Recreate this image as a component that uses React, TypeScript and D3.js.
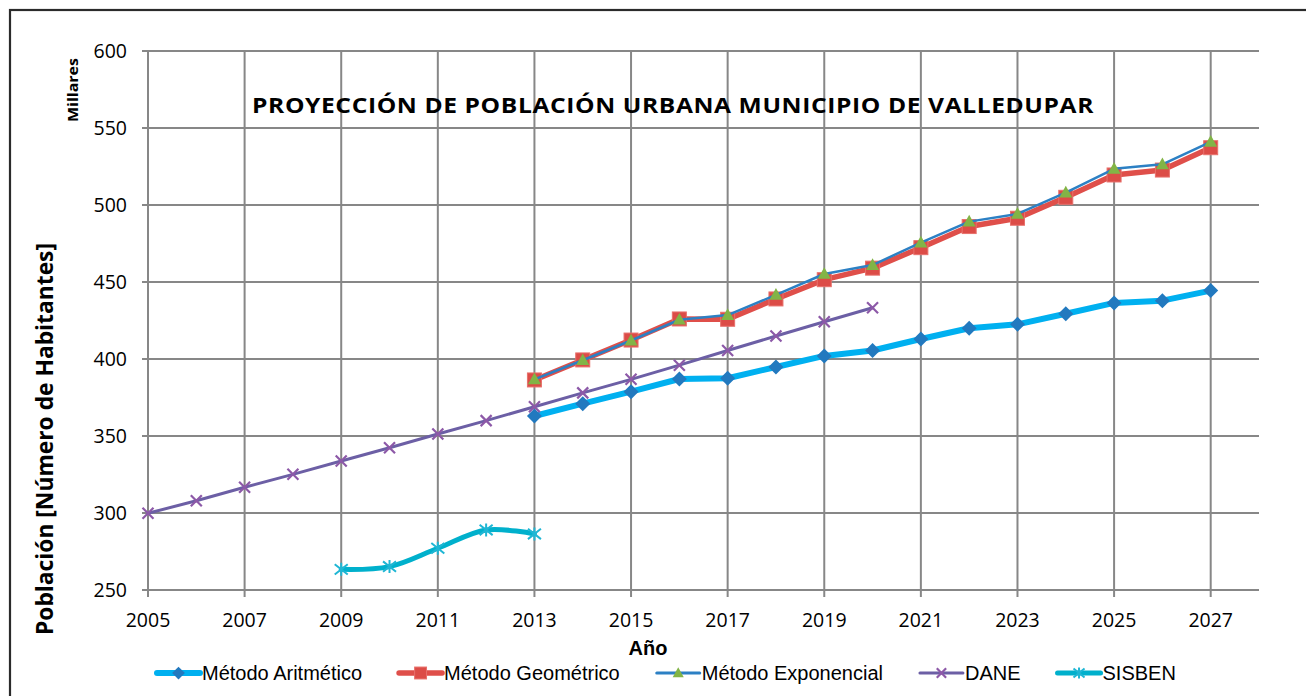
import React, { useEffect, useRef } from "react";
import * as d3 from "d3";

// values in thousands of inhabitants (Millares)
const yearsMetodos = [2013, 2014, 2015, 2016, 2017, 2018, 2019, 2020, 2021, 2022, 2023, 2024, 2025, 2026, 2027];
const aritmetico = [363, 371, 378.8, 387, 387.5, 394.8, 402, 405.5, 413, 420, 422.5, 429.4, 436.4, 437.9, 444.4];
const geometrico = [386.4, 399.4, 412.3, 426, 425.8, 439, 451.5, 459, 472.3, 486, 491.4, 505, 519.5, 522.7, 537.2];
const exponencial = [386.8, 399.2, 412, 425.5, 428.5, 441.6, 455.2, 461, 475.6, 489.2, 494.2, 508, 523.5, 526.4, 541];

const yearsDane = [2005, 2006, 2007, 2008, 2009, 2010, 2011, 2012, 2013, 2014, 2015, 2016, 2017, 2018, 2019, 2020];
const dane = [299.8, 308, 316.7, 325.1, 333.8, 342.4, 351.3, 360, 369, 378, 386.8, 396, 405.5, 414.9, 424.2, 433.3];

const yearsSisben = [2009, 2010, 2011, 2012, 2013];
const sisben = [263.4, 265.2, 277.1, 289, 286.4];

const xTicks = [2005, 2007, 2009, 2011, 2013, 2015, 2017, 2019, 2021, 2023, 2025, 2027];
const yTicks = [250, 300, 350, 400, 450, 500, 550, 600];

const titulo = "PROYECCIÓN DE POBLACIÓN URBANA MUNICIPIO DE VALLEDUPAR";

type Serie = {
  name: string;
  years: number[];
  values: number[];
  line: string;
  lineWidth: number;
  marker: string;
  symbol: "diamond" | "square" | "triangle" | "x" | "star";
  size: number;
  smooth: boolean;
};

const series: Serie[] = [
  { name: "Método Aritmético", years: yearsMetodos, values: aritmetico, line: "#00b0f0", lineWidth: 6, marker: "#2279bf", symbol: "diamond", size: 15, smooth: false },
  { name: "Método Geométrico", years: yearsMetodos, values: geometrico, line: "#df4f4a", lineWidth: 5.5, marker: "#dc4c47", symbol: "square", size: 14, smooth: false },
  { name: "Método Exponencial", years: yearsMetodos, values: exponencial, line: "#2c80c4", lineWidth: 2.5, marker: "#82b446", symbol: "triangle", size: 13, smooth: false },
  { name: "DANE", years: yearsDane, values: dane, line: "#6c5fa5", lineWidth: 3, marker: "#8d59a8", symbol: "x", size: 11, smooth: false },
  { name: "SISBEN", years: yearsSisben, values: sisben, line: "#00b0cc", lineWidth: 5, marker: "#1fb6d4", symbol: "star", size: 13, smooth: true },
];

function drawMarker(g: any, s: Serie, cx: number, cy: number, scale = 1) {
  const r = (s.size / 2) * scale;
  if (s.symbol === "diamond") {
    g.append("path")
      .attr("d", `M${cx},${cy - r}L${cx + r},${cy}L${cx},${cy + r}L${cx - r},${cy}Z`)
      .attr("fill", s.marker);
  } else if (s.symbol === "square") {
    g.append("rect")
      .attr("x", cx - r).attr("y", cy - r)
      .attr("width", 2 * r).attr("height", 2 * r)
      .attr("fill", s.marker)
      .attr("stroke", "#e8706b").attr("stroke-width", 1);
  } else if (s.symbol === "triangle") {
    g.append("path")
      .attr("d", `M${cx},${cy - r * 1.05}L${cx + r},${cy + r * 0.75}L${cx - r},${cy + r * 0.75}Z`)
      .attr("fill", s.marker);
  } else if (s.symbol === "x") {
    g.append("path")
      .attr("d", `M${cx - r},${cy - r}L${cx + r},${cy + r}M${cx - r},${cy + r}L${cx + r},${cy - r}`)
      .attr("stroke", s.marker).attr("stroke-width", 2.2);
  } else {
    g.append("path")
      .attr("d", `M${cx - r},${cy - r * 0.8}L${cx + r},${cy + r * 0.8}M${cx - r},${cy + r * 0.8}L${cx + r},${cy - r * 0.8}M${cx},${cy - r}L${cx},${cy + r}`)
      .attr("stroke", s.marker).attr("stroke-width", 2);
  }
}

export default function App() {
  const ref = useRef<SVGSVGElement>(null);

  useEffect(() => {
    const svg = d3.select(ref.current);
    svg.selectAll("*").remove();

    const W = 1306, H = 696;
    const left = 148, right = 1259, top = 51, bottom = 590;

    svg.append("rect").attr("width", W).attr("height", H).attr("fill", "#fff");
    // outer chart border (continues beyond the visible area)
    svg.append("rect")
      .attr("x", 10).attr("y", 10)
      .attr("width", W + 20).attr("height", H + 20)
      .attr("fill", "none").attr("stroke", "#2b2b2b").attr("stroke-width", 2.2);

    const x = d3.scaleLinear().domain([2005, 2028]).range([left, right]);
    const y = d3.scaleLinear().domain([250, 600]).range([bottom, top]);

    const grid = svg.append("g");
    yTicks.forEach((t) => {
      grid.append("line")
        .attr("x1", left - 6).attr("x2", right)
        .attr("y1", y(t)).attr("y2", y(t))
        .attr("stroke", "#878787").attr("stroke-width", 2);
    });
    xTicks.forEach((t) => {
      grid.append("line")
        .attr("x1", x(t)).attr("x2", x(t))
        .attr("y1", top).attr("y2", bottom + 7)
        .attr("stroke", "#878787").attr("stroke-width", 2);
    });

    svg.append("g")
      .selectAll("text")
      .data(yTicks)
      .join("text")
      .attr("x", 127)
      .attr("y", (d) => y(d) + 7)
      .attr("text-anchor", "end")
      .style("font-family", "'Open Sans', sans-serif")
      .style("font-size", "19.5px")
      .attr("fill", "#000")
      .text((d) => d);

    svg.append("g")
      .selectAll("text")
      .data(xTicks)
      .join("text")
      .attr("x", (d) => x(d))
      .attr("y", 627)
      .attr("text-anchor", "middle")
      .style("font-family", "'Open Sans', sans-serif")
      .style("font-size", "19.5px")
      .attr("fill", "#000")
      .text((d) => d);

    // series
    series.forEach((s) => {
      const g = svg.append("g");
      const pts: [number, number][] = s.years.map((yr, i) => [x(yr), y(s.values[i])]);
      const line = d3.line().curve(s.smooth ? d3.curveCatmullRom.alpha(0.5) : d3.curveLinear);
      g.append("path")
        .attr("d", line(pts))
        .attr("fill", "none")
        .attr("stroke", s.line)
        .attr("stroke-width", s.lineWidth)
        .attr("stroke-linejoin", "round")
        .attr("stroke-linecap", "round");
      pts.forEach(([px, py]) => drawMarker(g, s, px, py));
    });

    // title
    svg.append("text")
      .attr("x", 673).attr("y", 113)
      .attr("text-anchor", "middle")
      .attr("textLength", 842)
      .attr("lengthAdjust", "spacingAndGlyphs")
      .style("font-family", "'Open Sans', sans-serif")
      .style("font-weight", "bold")
      .style("font-size", "20.5px")
      .style("letter-spacing", "0.5px")
      .text(titulo);

    // axis titles
    svg.append("text")
      .attr("transform", "translate(53,439) rotate(-90)")
      .attr("text-anchor", "middle")
      .attr("textLength", 392)
      .attr("lengthAdjust", "spacingAndGlyphs")
      .style("font-family", "'Open Sans', sans-serif")
      .style("font-weight", "bold")
      .style("font-size", "24px")
      .text("Población [Número de Habitantes]");

    svg.append("text")
      .attr("transform", "translate(78,90) rotate(-90)")
      .attr("text-anchor", "middle")
      .attr("textLength", 64)
      .attr("lengthAdjust", "spacingAndGlyphs")
      .style("font-family", "'Open Sans', sans-serif")
      .style("font-weight", "bold")
      .style("font-size", "15px")
      .text("Millares");

    svg.append("text")
      .attr("x", 648).attr("y", 655)
      .attr("text-anchor", "middle")
      .style("font-family", "'Liberation Sans', Arial, sans-serif")
      .style("font-weight", "bold")
      .style("font-size", "20px")
      .text("Año");

    // legend
    const legend = svg.append("g");
    let lx = 157;
    const ly = 673;
    series.forEach((s) => {
      const item = legend.append("g");
      item.append("line")
        .attr("x1", lx).attr("x2", lx + 43)
        .attr("y1", ly).attr("y2", ly)
        .attr("stroke", s.line)
        .attr("stroke-width", Math.max(s.lineWidth, 3))
        .attr("stroke-linecap", "round");
      drawMarker(item, s, lx + 21.5, ly, 0.85);
      const t = item.append("text")
        .attr("x", lx + 45).attr("y", ly + 7)
        .style("font-family", "'Liberation Sans', Arial, sans-serif")
        .style("font-size", "20px")
        .text(s.name);
      const w = (t.node() as SVGTextElement).getComputedTextLength();
      lx += 45 + w + 37;
    });
  }, []);

  return (
    <svg
      ref={ref}
      width={1306}
      height={696}
      style={{ position: "absolute", left: 0, top: 0, display: "block" }}
    />
  );
}
